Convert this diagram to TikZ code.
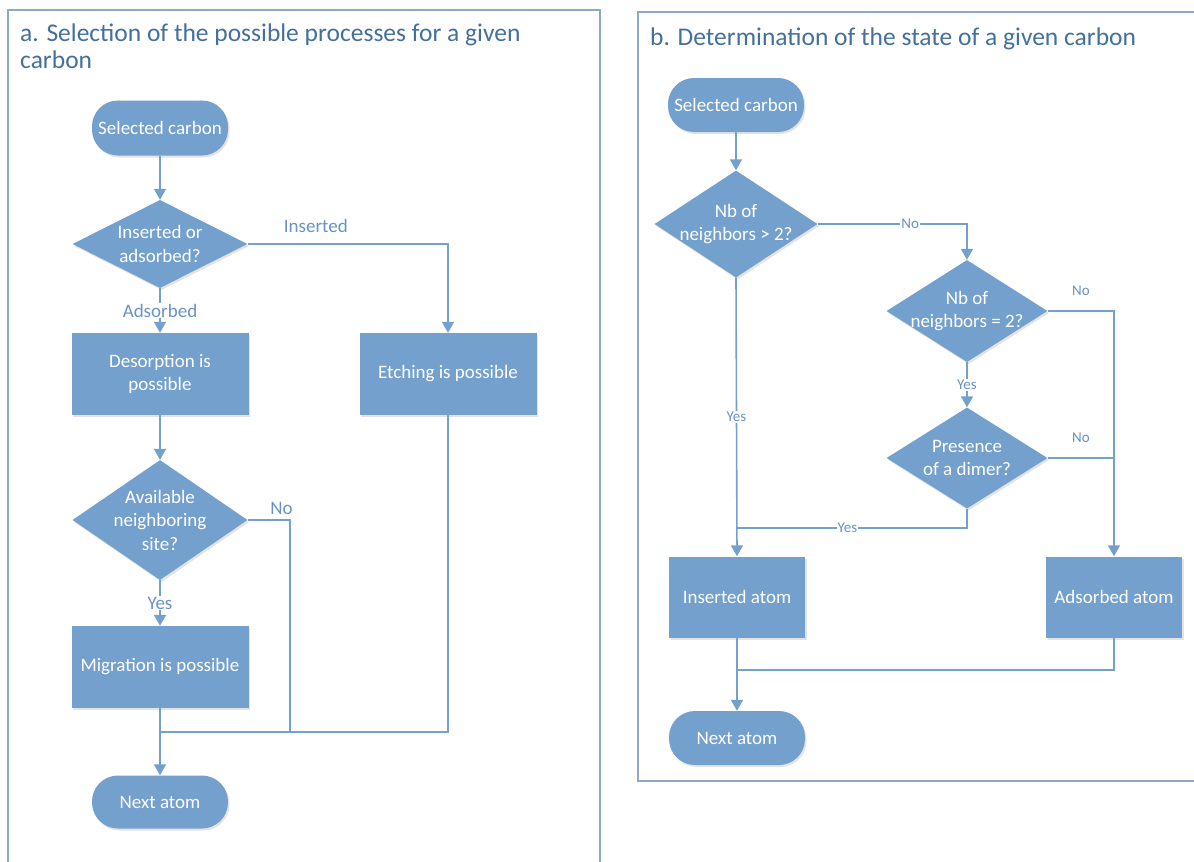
\documentclass[tikz,border=0pt]{standalone}
\usepackage{fontspec}
\setmainfont{Carlito}
\usetikzlibrary{shapes.geometric,arrows.meta,shadows}
\definecolor{flow}{RGB}{116,160,206}
\definecolor{ttl}{RGB}{68,112,158}
\definecolor{frame}{RGB}{141,169,200}
\definecolor{lbl}{RGB}{104,147,196}
\newcommand{\zl}[1]{\makebox[0pt]{#1}}
\begin{document}
\begin{tikzpicture}[x=1pt,y=-1pt,
  base/.style={fill=flow, text=white, font=\fontsize{19}{23.5}\selectfont, inner sep=0pt, align=center,
    drop shadow={shadow xshift=1.5pt, shadow yshift=-2pt, opacity=0.18, fill=black!60}},
  term/.style={base, rectangle, rounded corners=26pt, minimum width=136pt, minimum height=55pt},
  proc/.style={base, rectangle, minimum width=177pt, minimum height=82pt},
  dec/.style={base, diamond, aspect=2},
  conn/.style={draw=flow, line width=1.6pt},
  arr/.style={conn, -{Triangle[width=12pt,length=11pt]}},
  lab/.style={text=lbl, font=\fontsize{19}{22}\selectfont, inner sep=1pt},
  slab/.style={text=lbl, font=\fontsize{15}{17}\selectfont, inner sep=1pt},
  panel/.style={draw=frame, line width=1.5pt},
  ttlstyle/.style={text=ttl, font=\fontsize{25.5}{27}\selectfont, inner sep=0pt, align=left}
]
\useasboundingbox (0,0) rectangle (1194,862);
\fill[white] (0,0) rectangle (1194,862);

% panels
\draw[panel] (8,10) rectangle (600,900);
\draw[panel] (638,12) rectangle (1220,781);

% titles
\node[ttlstyle, anchor=base west] (ta) at (20,41) {a. Selection of the possible processes for a given};
\node[ttlstyle, anchor=base west] (ta2) at (20,68) {carbon};
\node[ttlstyle, anchor=base west] (tb) at (650,45) {b. Determination of the state of a given carbon};

% left panel
\node[term] (sc1) at (160,128) {Selected carbon};
\node[dec, minimum width=175pt, minimum height=88pt] (d1) at (160,244) {\zl{Inserted or}\\\zl{adsorbed?}};
\node[proc] (des) at (160,374) {Desorption is\\possible};
\node[proc] (etch) at (448,374) {Etching is possible};
\node[dec, minimum width=175pt, minimum height=120pt] (d2) at (160,520) {\zl{Available}\\\zl{neighboring}\\\zl{site?}};
\node[proc] (mig) at (160,667) {Migration is possible};
\node[term, minimum height=53pt] (nx1) at (160,802) {Next atom};
\coordinate (m1) at (160,732);
\coordinate (m2) at (290,732);

\draw[arr] (sc1.south) -- (d1.north);
\draw[arr] (d1.east) -| node[lab, pos=0.17, above=10pt] {Inserted} (etch.north);
\draw[arr] (d1.south) -- node[lab, midway, fill=white] {Adsorbed} (des.north);
\draw[arr] (des.south) -- (d2.north);
\draw[arr] (d2.south) -- node[lab, midway, fill=white] {Yes} (mig.north);
\draw[conn] (d2.east) -| node[lab, pos=0.4, above=4pt] {No} (m2);
\draw[conn] (etch.south) |- (m1);
\draw[arr] (mig.south) -- (nx1.north);

% right panel
\node[term, minimum height=54pt] (sc2) at (736,105) {Selected carbon};
\node[dec, minimum width=163pt, minimum height=107pt] (dA) at (736,224) {\zl{Nb of}\\\zl{neighbors > 2?}};
\node[dec, minimum width=161pt, minimum height=102pt] (dB) at (967,311) {\zl{Nb of}\\\zl{neighbors = 2?}};
\node[dec, minimum width=161pt, minimum height=101pt] (dC) at (967,458) {\zl{Presence}\\\zl{of a dimer?}};
\node[proc, minimum width=136pt, minimum height=81pt] (ins) at (737,597) {Inserted atom};
\node[proc, minimum width=136pt, minimum height=81pt] (ads) at (1114,597) {Adsorbed atom};
\node[term, minimum height=54pt] (nx2) at (737,738) {Next atom};
\coordinate (j1) at (1114,458);
\coordinate (j2) at (737,528);
\coordinate (j3) at (737,670);

\draw[arr] (sc2.south) -- (dA.north);
\draw[arr] (dA.east) -| node[slab, pos=0.31, fill=white] {No} (dB.north);
\draw[arr] (dA.south) -- node[slab, midway, fill=white] {Yes} (ins.north);
\draw[arr] (dB.east) -| node[slab, pos=0.25, above=14pt] {No} (ads.north);
\draw[arr] (dB.south) -- node[slab, midway, fill=white] {Yes} (dC.north);
\draw[conn] (dC.east) -- node[slab, midway, above=14pt] {No} (j1);
\draw[conn] (dC.south) |- node[slab, pos=0.76, fill=white] {Yes} (j2);
\draw[arr] (ins.south) -- (nx2.north);
\draw[conn] (ads.south) |- (j3);
\end{tikzpicture}
\end{document}
